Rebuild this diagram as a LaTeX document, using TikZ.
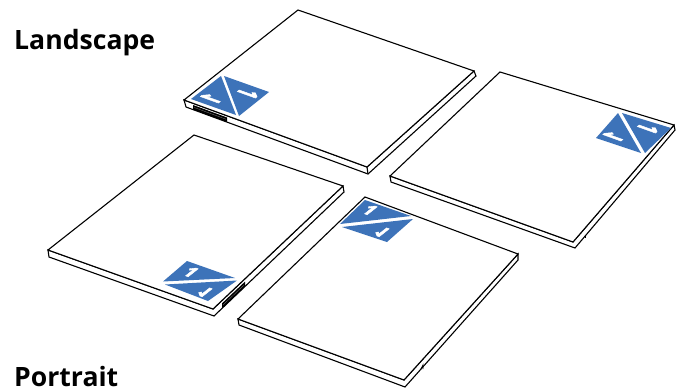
\documentclass[tikz,border=0pt]{standalone}
\usepackage{fontspec}
\setmainfont{Open Sans}[BoldFont={Open Sans Bold}]
\newfontfamily\onefont{Open Sans Bold}[FakeBold=3]
\definecolor{bluefill}{RGB}{61,115,185}
\tikzset{
  x=1pt,y=-1pt,
  edge/.style={draw=black,line width=1.1pt,line join=miter,fill=white},
  thin edge/.style={draw=black,line width=.8pt},
  tri/.style={fill=bluefill,draw=none},
  bind/.style={fill=black,draw=none},
  bindline/.style={draw=gray,line width=.3pt},
  one/.style={text=white,font=\onefont\fontsize{15}{15}\selectfont,inner sep=0pt,transform shape},
  title/.style={font=\bfseries\fontsize{26.6}{26.6}\selectfont,inner sep=0pt,anchor=base west},
}
\begin{document}
\begin{tikzpicture}
\useasboundingbox (0,0) rectangle (677,391);
% Panel 1
\coordinate (a1) at (298,10);\coordinate (b1) at (474,71);\coordinate (c1) at (367,167);\coordinate (d1) at (184,100);
\coordinate (b1l) at (476,76);\coordinate (c1l) at (368,174);\coordinate (d1l) at (186,107);
\draw[edge] (d1)--(d1l)--(c1l)--(b1l)--(b1)--(c1)--cycle;
\draw[edge] (d1)--(a1)--(b1)--(c1)--cycle;
\draw[edge] (c1)--(c1l);
\fill[bind] (193,105)--(227,117.5)--(227,122)--(193,109.6)--cycle;
\draw[bindline] (194,107.4)--(226,119.2);
\fill[tri] (191,99)--(221,76)--(236,115)--cycle;
\fill[tri] (224,76)--(269,92)--(239,116)--cycle;
\node[one,cm={-.86,-.68,-1.67,.60,(0,0)}] (o1) at (211,98.5) {1};
\node[one,cm={-.86,-.68,1.67,-.60,(0,0)}] (o2) at (248,93.5) {1};
% Panel 2
\coordinate (a2) at (500,72);\coordinate (b2) at (674,125);\coordinate (c2) at (573,242);\coordinate (d2) at (390,176);
\coordinate (b2l) at (675,130);\coordinate (c2l) at (575,248);\coordinate (d2l) at (391,182);
\draw[edge] (d2)--(d2l)--(c2l)--(b2l)--(b2)--(c2)--cycle;
\draw[edge] (d2)--(a2)--(b2)--(c2)--cycle;
\coordinate (n2a) at (585,235);\coordinate (n2b) at (585,238);
\draw[thin edge] (n2a)--(n2b);
\fill[tri] (596,138)--(618,113)--(641,153)--cycle;
\fill[tri] (622,113)--(671,128)--(645,153)--cycle;
\node[one,cm={-.86,-.68,-1.67,.60,(0,0)}] (o3) at (613.5,136.5) {1};
\node[one,cm={-.86,-.68,1.67,-.60,(0,0)}] (o4) at (648,128.5) {1};
% Panel 3
\coordinate (a3) at (194,135);\coordinate (b3) at (343,186);\coordinate (c3) at (213,309);\coordinate (d3) at (48,250);
\coordinate (b3l) at (344,192);\coordinate (c3l) at (214,316);\coordinate (d3l) at (49,257);
\draw[edge] (d3)--(d3l)--(c3l)--(b3l)--(b3)--(c3)--cycle;
\draw[edge] (d3)--(a3)--(b3)--(c3)--cycle;
\fill[bind] (222,303.4)--(245,281.6)--(245,286.5)--(222,308.4)--cycle;
\draw[bindline] (223,305)--(244,285);
\fill[tri] (163,281.5)--(187,261)--(235,278)--cycle;
\fill[tri] (165,284.5)--(237,280.5)--(208,301)--cycle;
\node[one,cm={1.13,-.41,.94,.74,(0,0)}] (o5) at (191,272) {1};
\node[one,cm={1.13,-.41,-.94,-.74,(0,0)}] (o6) at (205,292) {1};
% Panel 4
\coordinate (a4) at (365,197);\coordinate (b4) at (518,254);\coordinate (c4) at (404,380);\coordinate (d4) at (238,319);
\coordinate (b4l) at (518,260);\coordinate (c4l) at (405,387);\coordinate (d4l) at (239,325);
\draw[edge] (d4)--(d4l)--(c4l)--(b4l)--(b4)--(c4)--cycle;
\draw[edge] (d4)--(a4)--(b4)--(c4)--cycle;
\coordinate (n4a) at (421,369);\coordinate (n4b) at (423,365);\coordinate (n4c) at (423,369);
\draw[thin edge] (n4a)--(n4b)--(n4c);
\fill[tri] (340,224)--(365,200)--(411,216)--cycle;
\fill[tri] (342,227)--(413,219)--(387,242)--cycle;
\node[one,cm={1.13,-.41,.94,.74,(0,0)}] (o7) at (370,210) {1};
\node[one,cm={1.13,-.41,-.94,-.74,(0,0)}] (o8) at (382,232) {1};
\node[title] (t1) at (14,49) {Landscape};
\node[title] (t2) at (14,386) {Portrait};
\end{tikzpicture}
\end{document}
